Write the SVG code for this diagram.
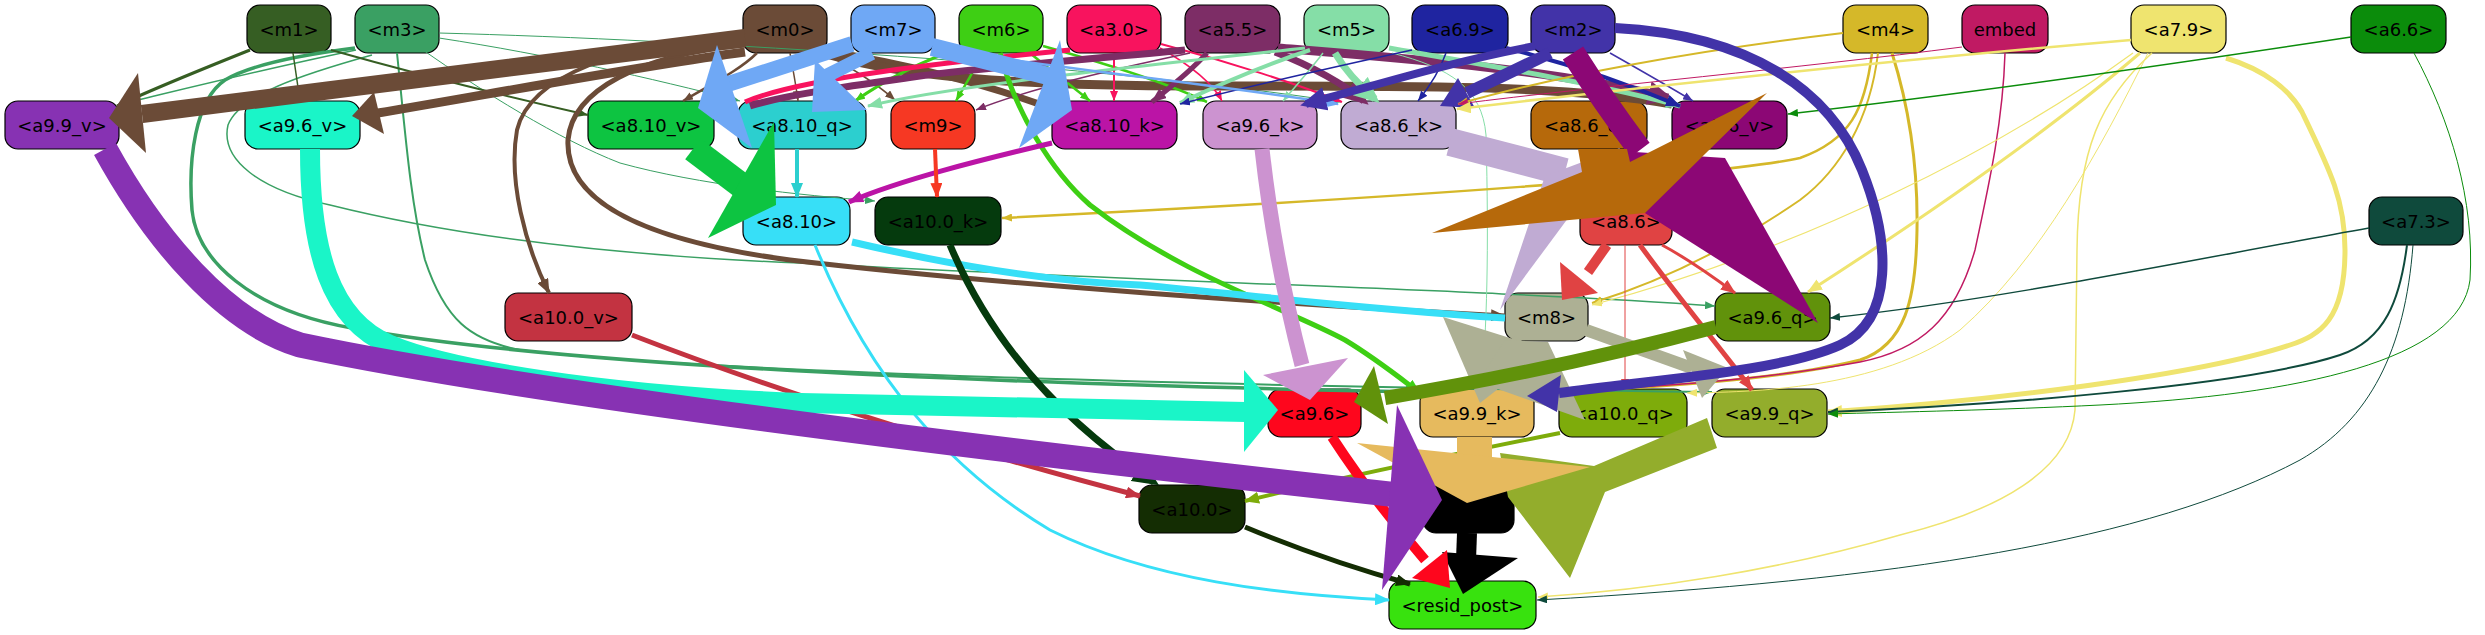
<svg xmlns="http://www.w3.org/2000/svg" width="2485" height="635" viewBox="0 0 2485 635">
<style>
#nodes rect{stroke:#000;stroke-width:1.2}
#nodes text{font-family:"DejaVu Sans","Liberation Sans",sans-serif;font-size:18px;text-anchor:middle;fill:#000}
#connectors path{fill:none}
#connectors polygon{stroke:none}
</style>
<defs>
<marker id="s-m0" viewBox="0 0 10 8" refX="10" refY="4" markerWidth="10" markerHeight="8" markerUnits="userSpaceOnUse" orient="auto"><path d="M0,0L10,4L0,8z" fill="#6b4b37"/></marker>
<marker id="s-m6" viewBox="0 0 10 8" refX="10" refY="4" markerWidth="10" markerHeight="8" markerUnits="userSpaceOnUse" orient="auto"><path d="M0,0L10,4L0,8z" fill="#3ecf14"/></marker>
<marker id="s-a30" viewBox="0 0 10 8" refX="10" refY="4" markerWidth="10" markerHeight="8" markerUnits="userSpaceOnUse" orient="auto"><path d="M0,0L10,4L0,8z" fill="#f8135e"/></marker>
<marker id="s-a55" viewBox="0 0 10 8" refX="10" refY="4" markerWidth="10" markerHeight="8" markerUnits="userSpaceOnUse" orient="auto"><path d="M0,0L10,4L0,8z" fill="#7d2d66"/></marker>
<marker id="s-m5" viewBox="0 0 10 8" refX="10" refY="4" markerWidth="10" markerHeight="8" markerUnits="userSpaceOnUse" orient="auto"><path d="M0,0L10,4L0,8z" fill="#85dea7"/></marker>
<marker id="s-a69" viewBox="0 0 10 8" refX="10" refY="4" markerWidth="10" markerHeight="8" markerUnits="userSpaceOnUse" orient="auto"><path d="M0,0L10,4L0,8z" fill="#1f24a0"/></marker>
<marker id="s-m2" viewBox="0 0 10 8" refX="10" refY="4" markerWidth="10" markerHeight="8" markerUnits="userSpaceOnUse" orient="auto"><path d="M0,0L10,4L0,8z" fill="#4233a8"/></marker>
<marker id="s-m4" viewBox="0 0 10 8" refX="10" refY="4" markerWidth="10" markerHeight="8" markerUnits="userSpaceOnUse" orient="auto"><path d="M0,0L10,4L0,8z" fill="#d5b829"/></marker>
<marker id="s-emb" viewBox="0 0 10 8" refX="10" refY="4" markerWidth="10" markerHeight="8" markerUnits="userSpaceOnUse" orient="auto"><path d="M0,0L10,4L0,8z" fill="#c01a63"/></marker>
<marker id="s-a79" viewBox="0 0 10 8" refX="10" refY="4" markerWidth="10" markerHeight="8" markerUnits="userSpaceOnUse" orient="auto"><path d="M0,0L10,4L0,8z" fill="#efe46f"/></marker>
<marker id="s-a66" viewBox="0 0 10 8" refX="10" refY="4" markerWidth="10" markerHeight="8" markerUnits="userSpaceOnUse" orient="auto"><path d="M0,0L10,4L0,8z" fill="#0b8c0b"/></marker>
<marker id="s-m1" viewBox="0 0 10 8" refX="10" refY="4" markerWidth="10" markerHeight="8" markerUnits="userSpaceOnUse" orient="auto"><path d="M0,0L10,4L0,8z" fill="#365e23"/></marker>
<marker id="s-m3" viewBox="0 0 10 8" refX="10" refY="4" markerWidth="10" markerHeight="8" markerUnits="userSpaceOnUse" orient="auto"><path d="M0,0L10,4L0,8z" fill="#3aa063"/></marker>
<marker id="s-a86" viewBox="0 0 10 8" refX="10" refY="4" markerWidth="10" markerHeight="8" markerUnits="userSpaceOnUse" orient="auto"><path d="M0,0L10,4L0,8z" fill="#e04343"/></marker>
<marker id="s-a73" viewBox="0 0 10 8" refX="10" refY="4" markerWidth="10" markerHeight="8" markerUnits="userSpaceOnUse" orient="auto"><path d="M0,0L10,4L0,8z" fill="#0f4a3c"/></marker>
<marker id="m-m0" viewBox="0 0 15 12" refX="14" refY="6" markerWidth="15" markerHeight="12" markerUnits="userSpaceOnUse" orient="auto"><path d="M0,0L15,6L0,12z" fill="#6b4b37"/></marker>
<marker id="m-m7" viewBox="0 0 15 12" refX="14" refY="6" markerWidth="15" markerHeight="12" markerUnits="userSpaceOnUse" orient="auto"><path d="M0,0L15,6L0,12z" fill="#6fa8f5"/></marker>
<marker id="m-m6" viewBox="0 0 15 12" refX="14" refY="6" markerWidth="15" markerHeight="12" markerUnits="userSpaceOnUse" orient="auto"><path d="M0,0L15,6L0,12z" fill="#3ecf14"/></marker>
<marker id="m-a55" viewBox="0 0 15 12" refX="14" refY="6" markerWidth="15" markerHeight="12" markerUnits="userSpaceOnUse" orient="auto"><path d="M0,0L15,6L0,12z" fill="#7d2d66"/></marker>
<marker id="m-m5" viewBox="0 0 15 12" refX="14" refY="6" markerWidth="15" markerHeight="12" markerUnits="userSpaceOnUse" orient="auto"><path d="M0,0L15,6L0,12z" fill="#85dea7"/></marker>
<marker id="m-a69" viewBox="0 0 15 12" refX="14" refY="6" markerWidth="15" markerHeight="12" markerUnits="userSpaceOnUse" orient="auto"><path d="M0,0L15,6L0,12z" fill="#1f24a0"/></marker>
<marker id="m-a79" viewBox="0 0 15 12" refX="14" refY="6" markerWidth="15" markerHeight="12" markerUnits="userSpaceOnUse" orient="auto"><path d="M0,0L15,6L0,12z" fill="#efe46f"/></marker>
<marker id="m-m1" viewBox="0 0 15 12" refX="14" refY="6" markerWidth="15" markerHeight="12" markerUnits="userSpaceOnUse" orient="auto"><path d="M0,0L15,6L0,12z" fill="#365e23"/></marker>
<marker id="m-m3" viewBox="0 0 15 12" refX="14" refY="6" markerWidth="15" markerHeight="12" markerUnits="userSpaceOnUse" orient="auto"><path d="M0,0L15,6L0,12z" fill="#3aa063"/></marker>
<marker id="m-a810q" viewBox="0 0 15 12" refX="14" refY="6" markerWidth="15" markerHeight="12" markerUnits="userSpaceOnUse" orient="auto"><path d="M0,0L15,6L0,12z" fill="#2ccfcf"/></marker>
<marker id="m-a810k" viewBox="0 0 15 12" refX="14" refY="6" markerWidth="15" markerHeight="12" markerUnits="userSpaceOnUse" orient="auto"><path d="M0,0L15,6L0,12z" fill="#bb14a6"/></marker>
<marker id="m-m9" viewBox="0 0 15 12" refX="14" refY="6" markerWidth="15" markerHeight="12" markerUnits="userSpaceOnUse" orient="auto"><path d="M0,0L15,6L0,12z" fill="#f63823"/></marker>
<marker id="m-a810" viewBox="0 0 15 12" refX="14" refY="6" markerWidth="15" markerHeight="12" markerUnits="userSpaceOnUse" orient="auto"><path d="M0,0L15,6L0,12z" fill="#37dff7"/></marker>
<marker id="m-a100v" viewBox="0 0 15 12" refX="14" refY="6" markerWidth="15" markerHeight="12" markerUnits="userSpaceOnUse" orient="auto"><path d="M0,0L15,6L0,12z" fill="#c33341"/></marker>
<marker id="m-a100" viewBox="0 0 15 12" refX="14" refY="6" markerWidth="15" markerHeight="12" markerUnits="userSpaceOnUse" orient="auto"><path d="M0,0L15,6L0,12z" fill="#142d03"/></marker>
<marker id="m-a100q" viewBox="0 0 15 12" refX="14" refY="6" markerWidth="15" markerHeight="12" markerUnits="userSpaceOnUse" orient="auto"><path d="M0,0L15,6L0,12z" fill="#7eac0b"/></marker>
<marker id="m-a86" viewBox="0 0 15 12" refX="14" refY="6" markerWidth="15" markerHeight="12" markerUnits="userSpaceOnUse" orient="auto"><path d="M0,0L15,6L0,12z" fill="#e04343"/></marker>
<marker id="l-a55" viewBox="0 0 26 24" refX="20" refY="12" markerWidth="26" markerHeight="24" markerUnits="userSpaceOnUse" orient="auto"><path d="M0,0L26,12L0,24z" fill="#7d2d66"/></marker>
<marker id="l-m5" viewBox="0 0 26 24" refX="20" refY="12" markerWidth="26" markerHeight="24" markerUnits="userSpaceOnUse" orient="auto"><path d="M0,0L26,12L0,24z" fill="#85dea7"/></marker>
<marker id="l-m2" viewBox="0 0 26 24" refX="20" refY="12" markerWidth="26" markerHeight="24" markerUnits="userSpaceOnUse" orient="auto"><path d="M0,0L26,12L0,24z" fill="#4233a8"/></marker>
<marker id="l-a100k" viewBox="0 0 26 24" refX="20" refY="12" markerWidth="26" markerHeight="24" markerUnits="userSpaceOnUse" orient="auto"><path d="M0,0L26,12L0,24z" fill="#053a0d"/></marker>
</defs>
<rect width="2485" height="635" fill="#fff"/>
<g id="nodes">
<g id="n-m1"><rect x="247" y="5" width="84" height="48" rx="13" fill="#365e23"/><text x="289" y="35.5">&lt;m1&gt;</text></g>
<g id="n-m3"><rect x="355" y="5" width="84" height="48" rx="13" fill="#3aa063"/><text x="397" y="35.5">&lt;m3&gt;</text></g>
<g id="n-m0"><rect x="743" y="5" width="84" height="48" rx="13" fill="#6b4b37"/><text x="785" y="35.5">&lt;m0&gt;</text></g>
<g id="n-m7"><rect x="851" y="5" width="84" height="48" rx="13" fill="#6fa8f5"/><text x="893" y="35.5">&lt;m7&gt;</text></g>
<g id="n-m6"><rect x="959" y="5" width="84" height="48" rx="13" fill="#3ecf14"/><text x="1001" y="35.5">&lt;m6&gt;</text></g>
<g id="n-a3.0"><rect x="1067" y="5" width="94" height="48" rx="13" fill="#f8135e"/><text x="1114" y="35.5">&lt;a3.0&gt;</text></g>
<g id="n-a5.5"><rect x="1185" y="5" width="95" height="48" rx="13" fill="#7d2d66"/><text x="1232.5" y="35.5">&lt;a5.5&gt;</text></g>
<g id="n-m5"><rect x="1304" y="5" width="85" height="48" rx="13" fill="#85dea7"/><text x="1346.5" y="35.5">&lt;m5&gt;</text></g>
<g id="n-a6.9"><rect x="1412" y="5" width="96" height="48" rx="13" fill="#1f24a0"/><text x="1460" y="35.5">&lt;a6.9&gt;</text></g>
<g id="n-m2"><rect x="1531" y="5" width="84" height="48" rx="13" fill="#4233a8"/><text x="1573" y="35.5">&lt;m2&gt;</text></g>
<g id="n-m4"><rect x="1843" y="5" width="85" height="48" rx="13" fill="#d5b829"/><text x="1885.5" y="35.5">&lt;m4&gt;</text></g>
<g id="n-embed"><rect x="1962" y="5" width="86" height="48" rx="13" fill="#c01a63"/><text x="2005" y="35.5">embed</text></g>
<g id="n-a7.9"><rect x="2131" y="5" width="95" height="48" rx="13" fill="#efe46f"/><text x="2178.5" y="35.5">&lt;a7.9&gt;</text></g>
<g id="n-a6.6"><rect x="2351" y="5" width="95" height="48" rx="13" fill="#0b8c0b"/><text x="2398.5" y="35.5">&lt;a6.6&gt;</text></g>
<g id="n-a9.9_v"><rect x="5" y="101" width="114" height="48" rx="13" fill="#8732b3"/><text x="62" y="131.5">&lt;a9.9_v&gt;</text></g>
<g id="n-a9.6_v"><rect x="245" y="101" width="115" height="48" rx="13" fill="#1af5c8"/><text x="302.5" y="131.5">&lt;a9.6_v&gt;</text></g>
<g id="n-a8.10_v"><rect x="588" y="101" width="126" height="48" rx="13" fill="#0dc441"/><text x="651" y="131.5">&lt;a8.10_v&gt;</text></g>
<g id="n-a8.10_q"><rect x="738" y="101" width="128" height="48" rx="13" fill="#2ccfcf"/><text x="802" y="131.5">&lt;a8.10_q&gt;</text></g>
<g id="n-m9"><rect x="891" y="101" width="84" height="48" rx="13" fill="#f63823"/><text x="933" y="131.5">&lt;m9&gt;</text></g>
<g id="n-a8.10_k"><rect x="1052" y="101" width="125" height="48" rx="13" fill="#bb14a6"/><text x="1114.5" y="131.5">&lt;a8.10_k&gt;</text></g>
<g id="n-a9.6_k"><rect x="1203" y="101" width="114" height="48" rx="13" fill="#cc93d0"/><text x="1260" y="131.5">&lt;a9.6_k&gt;</text></g>
<g id="n-a8.6_k"><rect x="1341" y="101" width="115" height="48" rx="13" fill="#c0abd3"/><text x="1398.5" y="131.5">&lt;a8.6_k&gt;</text></g>
<g id="n-a8.6_q"><rect x="1531" y="101" width="116" height="48" rx="13" fill="#b6690b"/><text x="1589" y="131.5">&lt;a8.6_q&gt;</text></g>
<g id="n-a8.6_v"><rect x="1672" y="101" width="115" height="48" rx="13" fill="#8c0775"/><text x="1729.5" y="131.5">&lt;a8.6_v&gt;</text></g>
<g id="n-a8.10"><rect x="743" y="197" width="107" height="48" rx="13" fill="#37dff7"/><text x="796.5" y="227.5">&lt;a8.10&gt;</text></g>
<g id="n-a10.0_k"><rect x="875" y="197" width="126" height="48" rx="13" fill="#053a0d"/><text x="938" y="227.5">&lt;a10.0_k&gt;</text></g>
<g id="n-a8.6"><rect x="1580" y="197" width="92" height="48" rx="13" fill="#e04343"/><text x="1626" y="227.5">&lt;a8.6&gt;</text></g>
<g id="n-a7.3"><rect x="2369" y="197" width="94" height="48" rx="13" fill="#0f4a3c"/><text x="2416" y="227.5">&lt;a7.3&gt;</text></g>
<g id="n-a10.0_v"><rect x="505" y="293" width="127" height="48" rx="13" fill="#c33341"/><text x="568.5" y="323.5">&lt;a10.0_v&gt;</text></g>
<g id="n-m8"><rect x="1505" y="293" width="83" height="48" rx="13" fill="#adb094"/><text x="1546.5" y="323.5">&lt;m8&gt;</text></g>
<g id="n-a9.6_q"><rect x="1715" y="293" width="115" height="48" rx="13" fill="#61920b"/><text x="1772.5" y="323.5">&lt;a9.6_q&gt;</text></g>
<g id="n-a9.6"><rect x="1268" y="389" width="93" height="48" rx="13" fill="#fe061d"/><text x="1314.5" y="419.5">&lt;a9.6&gt;</text></g>
<g id="n-a9.9_k"><rect x="1420" y="389" width="114" height="48" rx="13" fill="#e6ba5e"/><text x="1477" y="419.5">&lt;a9.9_k&gt;</text></g>
<g id="n-a10.0_q"><rect x="1559" y="389" width="128" height="48" rx="13" fill="#7eac0b"/><text x="1623" y="419.5">&lt;a10.0_q&gt;</text></g>
<g id="n-a9.9_q"><rect x="1712" y="389" width="115" height="48" rx="13" fill="#93ad2c"/><text x="1769.5" y="419.5">&lt;a9.9_q&gt;</text></g>
<g id="n-a10.0"><rect x="1139" y="485" width="106" height="48" rx="13" fill="#142d03"/><text x="1192" y="515.5">&lt;a10.0&gt;</text></g>
<g id="n-a9.9"><rect x="1423" y="485" width="91" height="48" rx="13" fill="#000"/><text x="1468.5" y="515.5">&lt;a9.9&gt;</text></g>
<g id="n-resid_post"><rect x="1389" y="581" width="147" height="48" rx="13" fill="#38e20e"/><text x="1462.5" y="611.5">&lt;resid_post&gt;</text></g>
</g>
<g id="connectors">
<path d="M439,33 C700,40 1100,65 1341,102" stroke="#3aa063" stroke-width="1" marker-end="url(#s-m3)"/>
<path d="M439,38 C550,55 650,78 740,101" stroke="#3aa063" stroke-width="1" marker-end="url(#s-m3)"/>
<path d="M423,50 C480,90 560,140 620,163 C700,185 800,195 875,201" stroke="#3aa063" stroke-width="1" marker-end="url(#s-m3)"/>
<path d="M372,55 C300,75 240,95 228,125 C220,160 260,190 330,205 C450,235 600,255 800,263 C1100,280 1500,290 1715,306" stroke="#3aa063" stroke-width="1.5" marker-end="url(#s-m3)"/>
<path d="M397,53 C405,130 410,200 425,260 C445,320 470,340 520,350 C700,372 1200,386 1712,392" stroke="#3aa063" stroke-width="2" marker-end="url(#s-m3)"/>
<path d="M355,48 C300,55 250,65 225,80 C195,100 188,160 192,210 C197,260 250,310 352,328 C500,355 800,380 1420,392" stroke="#3aa063" stroke-width="3.5" marker-end="url(#m-m3)"/>
<path d="M356,50 C260,70 180,90 121,104" stroke="#3aa063" stroke-width="1.5" marker-end="url(#s-m3)"/>
<path d="M250,50 C200,70 150,90 117,106" stroke="#365e23" stroke-width="3" marker-end="url(#m-m1)"/>
<path d="M293,53 L300,101" stroke="#365e23" stroke-width="1.5" marker-end="url(#s-m1)"/>
<path d="M331,50 C420,75 500,95 588,115" stroke="#365e23" stroke-width="2" marker-end="url(#s-m1)"/>
<path d="M757,53 C740,70 710,85 683,101" stroke="#6b4b37" stroke-width="2.5" marker-end="url(#s-m0)"/>
<path d="M790,53 C793,70 796,85 798,101" stroke="#6b4b37" stroke-width="1.5" marker-end="url(#s-m0)"/>
<path d="M828,55 C855,70 878,85 895,100" stroke="#6b4b37" stroke-width="1.5" marker-end="url(#s-m0)"/>
<path d="M745,32 C620,45 530,75 517,130 C508,180 525,245 549,293" stroke="#6b4b37" stroke-width="4" marker-end="url(#m-m0)"/>
<path d="M745,45 C640,55 572,90 568,140 C565,200 640,240 790,260 C1000,285 1300,305 1505,316" stroke="#6b4b37" stroke-width="5" marker-end="url(#m-m0)"/>
<path d="M829,52 C900,62 990,85 1055,110" stroke="#6b4b37" stroke-width="7"/>
<path d="M830,55 C900,75 1000,86 1200,86 C1400,86 1560,84 1672,104" stroke="#6b4b37" stroke-width="9"/>
<path d="M965,46 C925,60 885,80 855,101" stroke="#3ecf14" stroke-width="3" marker-end="url(#s-m6)"/>
<path d="M982,53 C975,70 965,85 956,101" stroke="#3ecf14" stroke-width="2.5" marker-end="url(#s-m6)"/>
<path d="M1030,53 C1050,70 1072,86 1090,101" stroke="#3ecf14" stroke-width="2.5" marker-end="url(#s-m6)"/>
<path d="M1043,46 C1100,62 1165,82 1207,102" stroke="#3ecf14" stroke-width="2.5" marker-end="url(#s-m6)"/>
<path d="M1114,53 L1114,101" stroke="#f8135e" stroke-width="2" marker-end="url(#s-a30)"/>
<path d="M1070,50 C950,62 800,78 745,102" stroke="#f8135e" stroke-width="5"/>
<path d="M1160,48 C1190,65 1212,82 1222,101" stroke="#f8135e" stroke-width="1.5" marker-end="url(#s-a30)"/>
<path d="M1161,44 C1230,62 1300,85 1342,102" stroke="#f8135e" stroke-width="2" marker-end="url(#s-a30)"/>
<path d="M1185,50 C1080,60 960,70 913,77 C850,86 785,95 750,106" stroke="#7d2d66" stroke-width="7"/>
<path d="M1207,53 C1192,70 1172,86 1152,102" stroke="#7d2d66" stroke-width="5" marker-end="url(#m-a55)"/>
<path d="M1190,53 C1100,72 1020,92 976,110" stroke="#7d2d66" stroke-width="1.5" marker-end="url(#s-a55)"/>
<path d="M1275,52 C1312,66 1345,85 1364,101" stroke="#7d2d66" stroke-width="7" marker-end="url(#l-a55)"/>
<path d="M1278,48 C1400,58 1560,70 1668,98" stroke="#7d2d66" stroke-width="9" marker-end="url(#l-a55)"/>
<path d="M1305,48 C1150,65 955,85 868,106" stroke="#85dea7" stroke-width="3" marker-end="url(#m-m5)"/>
<path d="M1310,50 C1262,66 1222,83 1180,103" stroke="#85dea7" stroke-width="4" marker-end="url(#m-m5)"/>
<path d="M1323,53 C1310,70 1296,86 1283,101" stroke="#85dea7" stroke-width="1.5" marker-end="url(#s-m5)"/>
<path d="M1389,48 C1480,64 1600,84 1680,106" stroke="#85dea7" stroke-width="5" marker-end="url(#m-m5)"/>
<path d="M1392,53 C1450,68 1482,88 1486,135 C1489,250 1487,330 1481,389" stroke="#85dea7" stroke-width="1" marker-end="url(#s-m5)"/>
<path d="M1335,53 C1345,70 1360,86 1375,99" stroke="#85dea7" stroke-width="7" marker-end="url(#l-m5)"/>
<path d="M1446,53 C1440,70 1430,86 1418,101" stroke="#1f24a0" stroke-width="1.5" marker-end="url(#s-a69)"/>
<path d="M1412,50 C1320,70 1250,86 1180,104" stroke="#1f24a0" stroke-width="1.5" marker-end="url(#s-a69)"/>
<path d="M1506,48 C1570,64 1630,85 1680,106" stroke="#1f24a0" stroke-width="4" marker-end="url(#m-a69)"/>
<path d="M935,48 C1050,68 1200,82 1338,104" stroke="#6fa8f5" stroke-width="2.5" marker-end="url(#m-m7)"/>
<path d="M1535,46 C1450,62 1380,84 1306,104" stroke="#4233a8" stroke-width="8" marker-end="url(#l-m2)"/>
<path d="M1610,53 C1640,70 1668,86 1693,101" stroke="#4233a8" stroke-width="1.5" marker-end="url(#s-m2)"/>
<path d="M1550,53 C1520,68 1490,82 1467,93" stroke="#4233a8" stroke-width="12"/>
<polygon points="1440,106 1475,108 1458,78" fill="#4233a8"/>
<path d="M1843,33 C1700,50 1560,75 1458,104" stroke="#d5b829" stroke-width="2" marker-end="url(#s-m4)"/>
<path d="M1872,53 C1865,110 1850,140 1800,158 C1720,175 1400,198 1002,218" stroke="#d5b829" stroke-width="2.5" marker-end="url(#s-m4)"/>
<path d="M1878,53 C1870,120 1840,170 1800,200 C1720,255 1650,285 1592,303" stroke="#d5b829" stroke-width="2" marker-end="url(#s-m4)"/>
<path d="M1892,53 C1910,110 1918,170 1917,230 C1916,300 1905,345 1860,360 C1780,380 1650,388 1534,393" stroke="#d5b829" stroke-width="3" marker-end="url(#s-m4)"/>
<path d="M1962,47 C1800,68 1600,86 1458,104" stroke="#c01a63" stroke-width="1" marker-end="url(#s-emb)"/>
<path d="M2005,53 C2003,120 1990,180 1975,250 C1955,320 1920,350 1860,362 C1750,382 1640,388 1536,392" stroke="#c01a63" stroke-width="1.5" marker-end="url(#s-emb)"/>
<path d="M2131,40 C1900,60 1700,80 1457,109" stroke="#efe46f" stroke-width="2.5" marker-end="url(#m-a79)"/>
<path d="M2140,53 C2050,130 1920,220 1808,292" stroke="#efe46f" stroke-width="3" marker-end="url(#m-a79)"/>
<path d="M2133,53 C2000,150 1800,250 1592,305" stroke="#efe46f" stroke-width="1.2" marker-end="url(#s-a79)"/>
<path d="M2148,53 C2100,150 2040,260 1960,330 C1880,390 1750,392 1687,393" stroke="#efe46f" stroke-width="1" marker-end="url(#s-a79)"/>
<path d="M2152,53 C2100,100 2078,150 2077,250 L2075,410 C2070,470 2000,510 1900,535 C1780,570 1650,590 1538,597" stroke="#efe46f" stroke-width="1.5" marker-end="url(#s-a79)"/>
<path d="M2226,58 C2265,70 2290,90 2302,112 C2330,170 2345,200 2345,250 C2345,320 2320,335 2290,345 C2200,375 2000,400 1828,412" stroke="#efe46f" stroke-width="5" marker-end="url(#m-a79)"/>
<path d="M2369,228 C2200,258 2000,300 1830,318" stroke="#0f4a3c" stroke-width="1.5" marker-end="url(#s-a73)"/>
<path d="M2407,245 C2400,300 2385,340 2340,355 C2250,385 2000,405 1828,412" stroke="#0f4a3c" stroke-width="2" marker-end="url(#s-a73)"/>
<path d="M2413,245 C2405,350 2370,420 2300,460 C2150,540 1900,580 1537,600" stroke="#0f4a3c" stroke-width="1" marker-end="url(#s-a73)"/>
<path d="M2351,37 C2200,60 2000,90 1788,114" stroke="#0b8c0b" stroke-width="1.5" marker-end="url(#s-a66)"/>
<path d="M2414,53 C2450,120 2475,200 2470,280 C2460,360 2300,395 2100,405 C2000,410 1900,412 1828,414" stroke="#0b8c0b" stroke-width="1" marker-end="url(#s-a66)"/>
<path d="M1000,53 C1015,110 1050,170 1090,205 C1180,275 1290,310 1345,340 C1375,358 1400,378 1420,393" stroke="#3ecf14" stroke-width="5" marker-end="url(#m-m6)"/>
<path d="M797,149 L797,197" stroke="#2ccfcf" stroke-width="4" marker-end="url(#m-a810q)"/>
<path d="M1052,143 C980,160 900,180 849,202" stroke="#bb14a6" stroke-width="5" marker-end="url(#m-a810k)"/>
<path d="M935,149 L937,197" stroke="#f63823" stroke-width="4" marker-end="url(#m-m9)"/>
<path d="M852,242 C950,265 1050,282 1140,285 C1250,295 1350,308 1505,318" stroke="#37dff7" stroke-width="7"/>
<path d="M815,245 C870,380 950,470 1050,530 C1150,580 1280,595 1389,600" stroke="#37dff7" stroke-width="3" marker-end="url(#m-a810)"/>
<path d="M950,245 C990,340 1060,420 1154,482" stroke="#053a0d" stroke-width="7" marker-end="url(#l-a100k)"/>
<path d="M632,335 C800,400 1000,460 1140,496" stroke="#c33341" stroke-width="5" marker-end="url(#m-a100v)"/>
<path d="M1245,527 C1300,550 1360,570 1410,584" stroke="#142d03" stroke-width="5" marker-end="url(#m-a100)"/>
<path d="M1560,433 C1450,455 1330,480 1245,501" stroke="#7eac0b" stroke-width="4" marker-end="url(#m-a100q)"/>
<path d="M1662,245 C1690,260 1712,276 1735,293" stroke="#e04343" stroke-width="3" marker-end="url(#m-a86)"/>
<path d="M1640,245 C1680,300 1730,360 1752,390" stroke="#e04343" stroke-width="5" marker-end="url(#m-a86)"/>
<path d="M1625,245 L1625,389" stroke="#e04343" stroke-width="1" marker-end="url(#s-a86)"/>
<path d="M1450,142 L1565,172" stroke="#c0abd3" stroke-width="28"/>
<polygon points="1545,176 1620,148 1500,310" fill="#c0abd3"/>
<path d="M1573,53 C1590,80 1610,110 1640,150" stroke="#8c0775" stroke-width="24"/>
<polygon points="1605,150 1725,158 1818,323 1637,208" fill="#8c0775"/>
<polygon points="1578,149 1627,149 1630,162 1767,93 1645,213 1432,233 1582,172" fill="#b6690b"/>
<path d="M1607,245 L1588,272" stroke="#e04343" stroke-width="10"/>
<polygon points="1560,262 1598,293 1562,300" fill="#e04343"/>
<path d="M1522,341 L1498,366" stroke="#adb094" stroke-width="18"/>
<polygon points="1443,317 1548,350 1480,403" fill="#adb094"/>
<polygon points="1505,340 1548,342 1585,420 1478,382" fill="#adb094"/>
<path d="M1586,330 L1692,368" stroke="#adb094" stroke-width="12"/>
<polygon points="1683,350 1728,368 1702,398" fill="#adb094"/>
<path d="M1716,327 C1600,358 1480,382 1385,398" stroke="#61920b" stroke-width="14"/>
<polygon points="1374,366 1388,424 1354,402" fill="#61920b"/>
<path d="M1262,149 C1270,220 1285,300 1302,365" stroke="#cc93d0" stroke-width="15"/>
<polygon points="1263,375 1348,358 1310,400" fill="#cc93d0"/>
<path d="M310,149 C310,250 330,320 390,345 C450,370 600,395 800,403 L1246,412" stroke="#1af5c8" stroke-width="20"/>
<polygon points="1244,370 1244,452 1278,410" fill="#1af5c8"/>
<path d="M693,149 L742,186" stroke="#0dc441" stroke-width="26"/>
<polygon points="774,122 776,205 708,238" fill="#0dc441"/>
<path d="M1467,533 L1466,560" stroke="#000" stroke-width="20"/>
<polygon points="1442,552 1518,558 1463,594" fill="#000"/>
<path d="M1332,437 C1360,480 1395,525 1425,560" stroke="#fe061d" stroke-width="10"/>
<polygon points="1412,578 1447,550 1450,588" fill="#fe061d"/>
<polygon points="1500,453 1594,466 1707,418 1717,448 1605,492 1570,578 1508,497" fill="#93ad2c"/>
<polygon points="1457,437 1492,437 1492,462 1457,462" fill="#e6ba5e"/>
<polygon points="1357,443 1590,467 1467,503" fill="#e6ba5e"/>
<path d="M105,149 C155,240 225,322 300,345 C500,387 900,440 1398,495" stroke="#8732b3" stroke-width="25"/>
<polygon points="1397,405 1442,500 1382,590" fill="#8732b3"/>
<path d="M1615,28 C1750,35 1830,90 1862,170 C1890,240 1895,320 1840,345 C1780,372 1650,380 1559,393" stroke="#4233a8" stroke-width="10"/>
<polygon points="1527,396 1557,412 1561,375" fill="#4233a8"/>
<path d="M745,38 C600,55 350,88 142,114" stroke="#6b4b37" stroke-width="18"/>
<polygon points="138,73 146,153 109,118" fill="#6b4b37"/>
<path d="M745,52 C640,66 480,96 378,113" stroke="#6b4b37" stroke-width="9"/>
<polygon points="374,92 384,134 352,116" fill="#6b4b37"/>
<path d="M852,44 L722,86" stroke="#6fa8f5" stroke-width="16"/>
<polygon points="717,45 698,108 752,148" fill="#6fa8f5"/>
<path d="M872,53 L826,76" stroke="#6fa8f5" stroke-width="14"/>
<polygon points="815,60 867,110 812,112" fill="#6fa8f5"/>
<path d="M932,47 L1048,76" stroke="#6fa8f5" stroke-width="18"/>
<polygon points="1060,40 1072,110 1019,148" fill="#6fa8f5"/>
</g>
</svg>
